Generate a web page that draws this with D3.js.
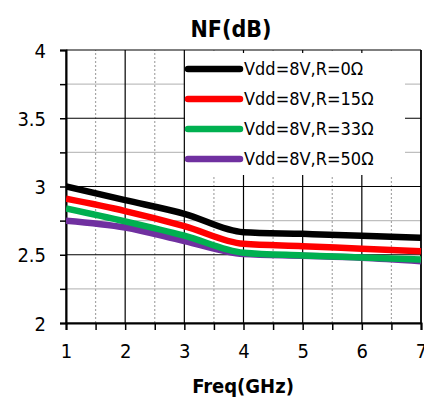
<!DOCTYPE html>
<html><head><meta charset="utf-8">
<script src="https://cdn.jsdelivr.net/npm/d3@7"></script>
<style>body{margin:0;background:#fff}svg{display:block}</style>
</head><body>
<script>
const freqs = [1, 2, 3, 4, 5, 6, 7];
const seriesNames = ["Vdd=8V,R=0Ω", "Vdd=8V,R=15Ω", "Vdd=8V,R=33Ω", "Vdd=8V,R=50Ω"];
const seriesColors = ["#000000", "#ff0000", "#00b050", "#7030a0"];
const nfR0  = [3.00, 2.90, 2.80, 2.665, 2.653, 2.64, 2.624];
const nfR15 = [2.91, 2.82, 2.71, 2.58, 2.563, 2.544, 2.526];
const nfR33 = [2.84, 2.745, 2.64, 2.515, 2.495, 2.48, 2.465];
const nfR50 = [2.75, 2.70, 2.60, 2.505, 2.492, 2.478, 2.453];
const yTicks = [2, 2.5, 3, 3.5, 4];
const xTicks = [1, 2, 3, 4, 5, 6, 7];
const seriesData = [nfR0, nfR15, nfR33, nfR50];
const chartTitle = "NF(dB)";
const xTitle = "Freq(GHz)";

const W = 424, H = 398;
const m = {left: 66, right: 3, top: 50, bottom: 75};
const svg = d3.select("body").append("svg").attr("width", W).attr("height", H);
const x = d3.scaleLinear().domain([1, 7]).range([m.left, W - m.right]);
const y = d3.scaleLinear().domain([2, 4]).range([H - m.bottom, m.top]);
const font = "Tahoma, 'DejaVu Sans Condensed', 'DejaVu Sans', sans-serif";

const g = svg.append("g");
const yMinor = d3.range(2.25, 4, 0.5);
g.selectAll(".hmin").data(yMinor).join("line")
  .attr("x1", x(1)).attr("x2", x(7)).attr("y1", d => y(d)).attr("y2", d => y(d))
  .attr("stroke", "#bfbfbf").attr("stroke-width", 1.2);
const xMinor = d3.range(1.5, 7, 1);
g.selectAll(".vmin").data(xMinor).join("line")
  .attr("x1", d => x(d)).attr("x2", d => x(d)).attr("y1", y(2)).attr("y2", y(4))
  .attr("stroke", "#a6a6a6").attr("stroke-width", 1.2).attr("stroke-dasharray", "2,2");
g.selectAll(".hmaj").data(yTicks).join("line")
  .attr("x1", x(1)).attr("x2", x(7)).attr("y1", d => y(d)).attr("y2", d => y(d))
  .attr("stroke", "#000").attr("stroke-width", 1.2);
g.selectAll(".vmaj").data(xTicks).join("line")
  .attr("x1", d => x(d)).attr("x2", d => x(d)).attr("y1", y(2)).attr("y2", y(4))
  .attr("stroke", "#000").attr("stroke-width", 1.2);

const yAxis = svg.append("g").attr("transform", `translate(${m.left},0)`)
  .call(d3.axisLeft(y).tickValues(d3.range(2, 4.01, 0.25)).tickSize(6).tickFormat(d => yTicks.includes(+d.toFixed(2)) ? d3.format("~g")(d) : ""));
const xAxis = svg.append("g").attr("transform", `translate(0,${H - m.bottom})`)
  .call(d3.axisBottom(x).tickValues(d3.range(1, 7.01, 0.5)).tickSize(7).tickFormat(d => Number.isInteger(d) ? d : ""));
[yAxis, xAxis].forEach(a => {
  a.select(".domain").attr("stroke", "#000").attr("stroke-width", 2);
  a.selectAll(".tick line").attr("stroke", "#000").attr("stroke-width", 1.5);
  a.selectAll("text").attr("font-family", font).attr("font-size", 20).attr("fill", "#000");
});
yAxis.selectAll("text").attr("x", -20).attr("dy", "0.35em");
xAxis.selectAll("text").attr("y", 21);
svg.append("line").attr("x1", x(7)).attr("x2", x(7)).attr("y1", y(2)).attr("y2", y(4)).attr("stroke", "#000").attr("stroke-width", 1.5);

const line = d3.line().x((d, i) => x(freqs[i])).y(d => y(d)).curve(d3.curveMonotoneX);
svg.append("defs").append("clipPath").attr("id", "clip").append("rect")
  .attr("x", m.left).attr("y", m.top).attr("width", x(7) - m.left + 4).attr("height", y(2) - m.top);
const lg = svg.append("g").attr("clip-path", "url(#clip)");
seriesData.slice().reverse().forEach((s, k) => {
  const i = seriesData.length - 1 - k;
  lg.append("path").attr("d", line(s)).attr("fill", "none")
    .attr("stroke", seriesColors[i]).attr("stroke-width", 6.5).attr("stroke-linejoin", "round");
});

const leg = svg.append("g");
leg.append("rect").attr("x", 185).attr("y", 53).attr("width", 220).attr("height", 122).attr("fill", "#fff");
seriesNames.forEach((n, i) => {
  const yy = 69 + i * 30;
  leg.append("line").attr("x1", 188).attr("x2", 240).attr("y1", yy).attr("y2", yy)
    .attr("stroke", seriesColors[i]).attr("stroke-width", 6.5).attr("stroke-linecap", "round");
  leg.append("text").attr("x", 244).attr("y", yy).attr("dy", "0.35em")
    .attr("font-family", font).attr("font-size", 18).text(n);
});

svg.append("text").attr("x", 231).attr("y", 37).attr("text-anchor", "middle")
  .attr("font-family", font).attr("font-weight", "bold").attr("font-size", 23).text(chartTitle);
svg.append("text").attr("x", 243).attr("y", 393).attr("text-anchor", "middle")
  .attr("font-family", font).attr("font-weight", "bold").attr("font-size", 20).text(xTitle);
</script>
</body></html>
